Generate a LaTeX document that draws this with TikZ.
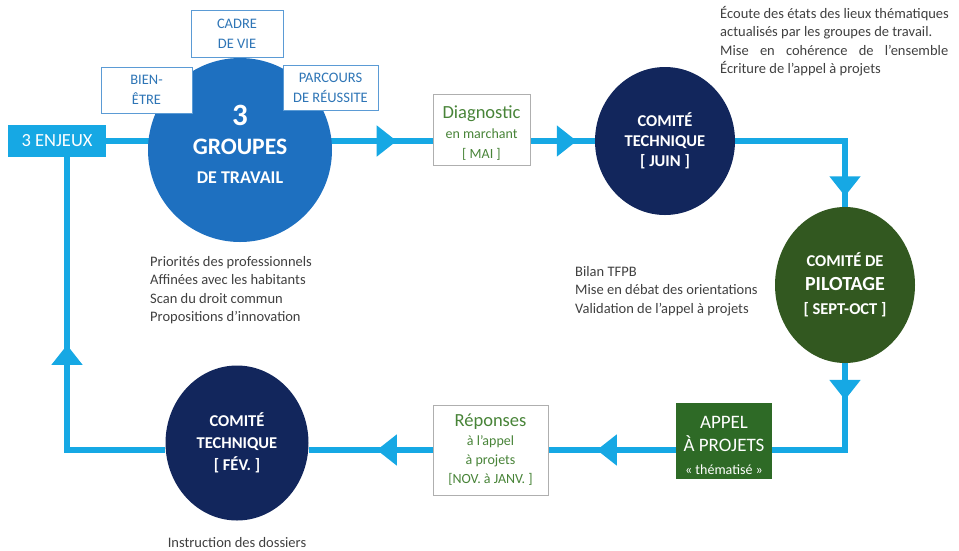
\documentclass[tikz,border=0pt]{standalone}
\usepackage{fontspec}
\setmainfont{Carlito}
\usetikzlibrary{arrows.meta,decorations.markings,shapes.geometric,backgrounds}
\definecolor{flowcyan}{RGB}{22,168,228}
\definecolor{groupblue}{RGB}{30,112,192}
\definecolor{navy}{RGB}{18,38,92}
\definecolor{pilotgreen}{RGB}{50,88,32}
\definecolor{appelgreen}{RGB}{46,106,38}
\definecolor{diaggreen}{RGB}{72,132,56}
\definecolor{framegray}{RGB}{175,175,175}
\definecolor{enjeuline}{RGB}{91,155,213}
\definecolor{enjeutext}{RGB}{46,117,182}
\definecolor{notegray}{RGB}{64,64,64}
\newcommand{\sz}[2]{\fontsize{#1}{#2}\selectfont}
\tikzstyle{enjeu}=[rectangle, draw=enjeuline, line width=1pt, fill=white, text=enjeutext, align=center, font=\sz{14.5}{20}, inner sep=0pt]
\tikzstyle{etape}=[rectangle, draw=framegray, line width=0.8pt, fill=white, text=diaggreen, align=center, inner sep=0pt]
\tikzstyle{comite}=[ellipse, fill=navy, text=white, align=center, font=\bfseries\sz{16.5}{21}, inner sep=0pt]
\tikzstyle{note}=[text=notegray, align=left, font=\sz{14.5}{18.5}, inner sep=0pt, anchor=north west]
\tikzstyle{flow}=[draw=flowcyan, color=flowcyan, line width=6pt]

\begin{document}
\begin{tikzpicture}[x=1pt, y=-1pt
    ,midtip/.style={
        postaction={decorate,
                    decoration={markings,mark=at position #1 with
                    {\arrow{Triangle[length=20pt,width=30pt]}}} } }
]
\useasboundingbox (0,0) rectangle (959,550);
\node (enjeux) [rectangle, fill=flowcyan, text=white, minimum width=98pt, minimum height=32pt, inner sep=0pt, font=\sz{18.5}{22}] at (57,141) {3 ENJEUX};
\node (groupes) [circle, fill=groupblue, text=white, minimum size=184pt, inner sep=0pt, align=center, font=\bfseries\sz{18}{29}] at (240,150)
    {{\sz{31}{29}3}\\{\sz{23.6}{29}GROUPES}\\DE TRAVAIL\rule[-12pt]{0pt}{12pt}};
\node (cadre) [enjeu, minimum width=92pt, minimum height=47pt] at (237,33.5) {CADRE\\DE VIE};
\node (bien) [enjeu, minimum width=91pt, minimum height=46pt] at (146.5,90) {BIEN-\\ÊTRE};
\node (parcours) [enjeu, minimum width=95pt, minimum height=45pt] at (330.5,87.5) {PARCOURS\\DE RÉUSSITE};
\node (diag) [etape, minimum width=97pt, minimum height=71pt, font=\sz{14}{20}] at (481.5,129.5)
    {\rule{0pt}{20pt}{\sz{18.5}{20}Diagnostic}\\en marchant\\{[ MAI ]}};
\node (juin) [comite, minimum width=140pt, minimum height=148pt, font=\bfseries\sz{16.5}{20}] at (665,141) {COMITÉ\\TECHNIQUE\\{[ JUIN ]}};
\node (pilotage) [comite, fill=pilotgreen, minimum width=140pt, minimum height=156pt, font=\bfseries\sz{16.5}{24}] at (845,285)
    {COMITÉ DE\\{\sz{20}{24}PILOTAGE}\\{[ SEPT-OCT ]}};
\node (appel) [rectangle, fill=appelgreen, text=white, minimum width=96pt, minimum height=76pt, inner sep=0pt, align=center, font=\sz{19}{23}] at (724,441)
    {\rule{0pt}{22pt}APPEL\\À PROJETS\\{\sz{14}{18}«~thématisé~»}};
\node (rep) [etape, minimum width=115pt, minimum height=90pt, font=\sz{14}{19}] at (490.5,450)
    {{\sz{18.5}{19}Réponses}\\à l’appel\\à projets\\{[NOV. à JANV. ]}};
\node (fev) [comite, minimum width=143pt, minimum height=155pt, font=\bfseries\sz{16.5}{22}] at (237,443) {COMITÉ\\TECHNIQUE\\{[ FÉV. ]}};
\coordinate (turnlow) at (67,450);

% notes
\node (ecoute) [note] at (720,6) {Écoute des états des lieux thématiques\\actualisés par les groupes de travail.\\
    \makebox[228pt][s]{Mise en cohérence de l’ensemble}\\Écriture de l’appel à projets};
\node (priorites) [note] at (150,256) {Priorités des professionnels\\Affinées avec les habitants\\Scan du droit commun\\Propositions d’innovation};
\node (bilan) [note] at (575,266) {Bilan TFPB\\Mise en débat des orientations\\Validation de l’appel à projets};
\node (instruction) [note, anchor=base] at (237,547) {Instruction des dossiers};

\begin{scope}[on background layer]
\draw[flow, midtip=0.89] (enjeux.east) -- (enjeux.east -| diag.west);
\draw[flow, midtip=0.72] (enjeux.east -| diag.east) -- (enjeux.east -| juin.west);
\draw[flow, midtip=0.94] (juin.east) -| (pilotage.north);
\draw[flow, midtip=0.23] (pilotage.south) |- (appel.east |- rep.east);
\draw[flow, midtip=0.62] (appel.west |- rep.east) -- (rep.east);
\draw[flow, midtip=0.45] (rep.west) -- (rep.west -| fev.east);
\draw[flow, midtip=0.52] (rep.west -| fev.west) -- (turnlow) -- (turnlow |- enjeux.south);
\end{scope}
\end{tikzpicture}
\end{document}
